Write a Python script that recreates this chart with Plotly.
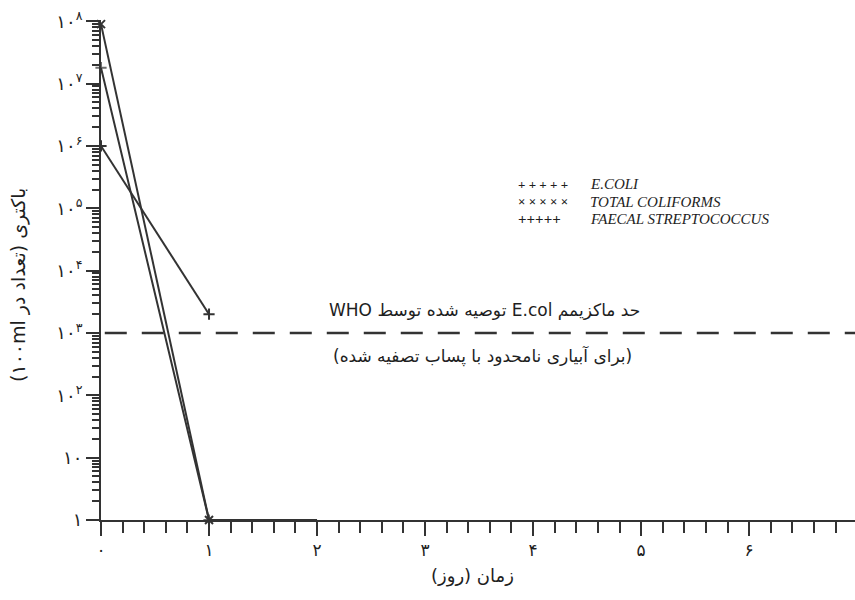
import plotly.graph_objects as go

# Bacterial die-off over time (count per 100 ml), log scale
days_ecoli = [0, 1, 2]
ecoli = [1.8e7, 1, 1]
days_total = [0, 1]
total_coliforms = [9e7, 1]
days_faecal = [0, 1]
faecal_strep = [1e6, 2e3]

who_limit = 1e3

x_ticks = [0, 1, 2, 3, 4, 5, 6]
x_tick_text = ["۰", "۱", "۲", "۳", "۴", "۵", "۶"]
y_ticks = [1, 10, 1e2, 1e3, 1e4, 1e5, 1e6, 1e7, 1e8]
y_tick_text = ["۱", "۱۰", "۱۰<sup>۲</sup>", "۱۰<sup>۳</sup>", "۱۰<sup>۴</sup>",
               "۱۰<sup>۵</sup>", "۱۰<sup>۶</sup>", "۱۰<sup>۷</sup>", "۱۰<sup>۸</sup>"]
y_minor = [m * d for d in y_ticks[:-1] for m in range(2, 10)]

legend_names = ["E.COLI", "TOTAL COLIFORMS", "FAECAL STREPTOCOCCUS"]
legend_symbols = ["+ + + + +", "× × × × ×", "+++++"]

W, H = 855, 600
L, R, T, B = 101, 0, 20, 80
INK = "#333333"
TXT = "#1e1e1e"
RLE, PDF = "\u202b", "\u202c"
Y_RANGE = [0, 8.02]


def px(x):
    return (x - L) / (W - L - R)


def py(y):
    return 1 - (y - T) / (H - T - B)


fig = go.Figure()
line = dict(color=INK, width=2)
fig.add_trace(go.Scatter(x=days_total, y=total_coliforms, mode="lines+markers",
                         line=line, marker=dict(symbol="x-thin", size=8, line=dict(color=INK, width=2)),
                         cliponaxis=False, showlegend=False))
fig.add_trace(go.Scatter(x=days_ecoli, y=ecoli, mode="lines+markers",
                         line=line, marker=dict(symbol="cross-thin", size=[8, 8, 0], line=dict(color=INK, width=2)),
                         cliponaxis=False, showlegend=False))
fig.add_trace(go.Scatter(x=days_faecal, y=faecal_strep, mode="lines+markers",
                         line=line, marker=dict(symbol="cross-thin", size=8, line=dict(color=INK, width=2)),
                         cliponaxis=False, showlegend=False))
# transparent carrier so the minor-tick axis is drawn
fig.add_trace(go.Scatter(x=days_faecal, y=faecal_strep, yaxis="y2", mode="markers",
                         marker=dict(opacity=0), showlegend=False, hoverinfo="skip"))

# WHO maximum recommended E.coli level
fig.add_shape(type="line", xref="paper", yref="y", x0=0.005, x1=1, y0=who_limit, y1=who_limit,
              line=dict(color=INK, width=2.5, dash="22px,15px"))

serif = "Liberation Serif"
arabic = "DejaVu Sans"
anns = [
    dict(x=px(484), y=py(310), text=RLE + "حد ماکزیمم E.col توصیه شده توسط WHO" + PDF,
         font=dict(family=arabic, size=17, color=TXT)),
    dict(x=px(482), y=py(356), text=RLE + "(برای آبیاری نامحدود با پساب تصفیه شده)" + PDF,
         font=dict(family=arabic, size=17, color=TXT)),
    dict(x=px(472), y=py(576), text=RLE + "زمان (روز)" + PDF,
         font=dict(family=arabic, size=18, color=TXT)),
    dict(x=px(18), y=py(285), text=RLE + "باکتری (تعداد در ۱۰۰ml)" + PDF, textangle=-90,
         font=dict(family=arabic, size=19, color=TXT)),
]
for i, (sym, name) in enumerate(zip(legend_symbols, legend_names)):
    yy = py(184 + 17.5 * i)
    anns.append(dict(x=px(516), y=yy, text="<b>" + sym + "</b>", xanchor="left",
                     font=dict(family=serif, size=13 if i < 2 else 15, color=TXT)))
    anns.append(dict(x=px(588), y=yy, text="<i>" + name + "</i>", xanchor="left",
                     font=dict(family=serif, size=15, color=TXT)))
for a in anns:
    a.update(xref="paper", yref="paper", showarrow=False)
    a.setdefault("xanchor", "center")
    a.setdefault("yanchor", "middle")
fig.update_layout(annotations=anns)

fig.update_layout(
    xaxis=dict(range=[0, 6.98], showline=True, linewidth=2, linecolor=INK,
               ticks="outside", ticklen=14, tickwidth=2, tickcolor=INK,
               tickvals=x_ticks, ticktext=x_tick_text, showgrid=False, zeroline=False,
               tickfont=dict(family=arabic, size=17, color=TXT),
               minor=dict(ticks="outside", ticklen=11, tickwidth=1.5, tickcolor=INK,
                          dtick=0.2, showgrid=False)),
    yaxis=dict(type="log", range=Y_RANGE, showline=True, linewidth=2, linecolor=INK,
               ticks="outside", ticklen=13, tickwidth=2, tickcolor=INK,
               tickvals=y_ticks, ticktext=y_tick_text,
               showgrid=False, zeroline=False,
               tickfont=dict(family=arabic, size=18, color=TXT)),
    yaxis2=dict(type="log", range=Y_RANGE, overlaying="y", anchor="x", side="left",
                showline=False, ticks="outside", ticklen=8, tickwidth=1.5, tickcolor=INK,
                tickvals=y_minor, showticklabels=False,
                showgrid=False, zeroline=False),
)

fig.update_layout(width=W, height=H, margin=dict(l=L, r=R, t=T, b=B),
                  plot_bgcolor="white", paper_bgcolor="white", showlegend=False)

fig.write_html("out.html")
